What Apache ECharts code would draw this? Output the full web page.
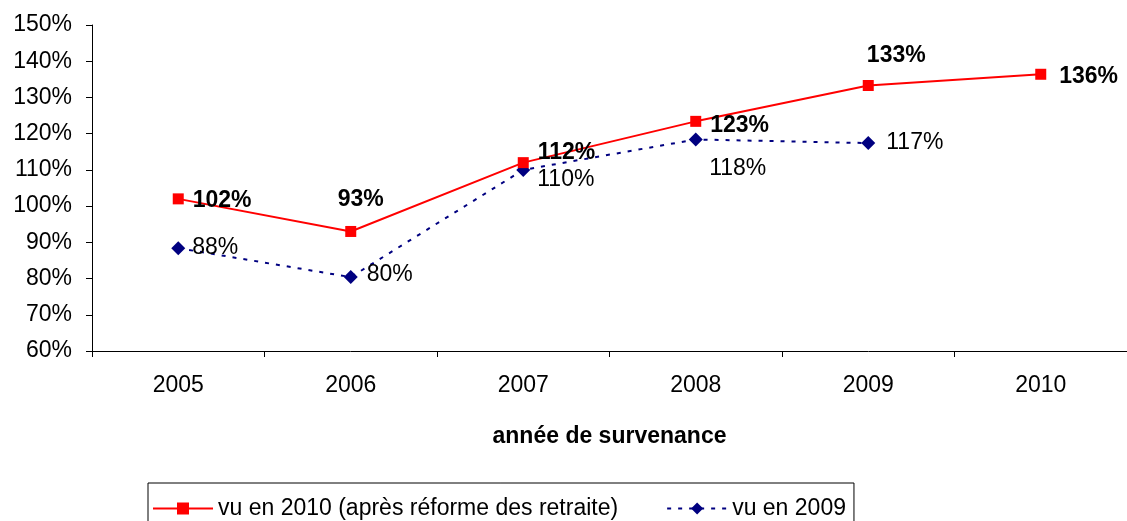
<!DOCTYPE html>
<html>
<head>
<meta charset="utf-8">
<script src="https://cdn.jsdelivr.net/npm/echarts@6/dist/echarts.min.js"></script>
<style>
  html, body { margin: 0; padding: 0; background: #fff; }
  #main { width: 1127px; height: 521px; }
</style>
</head>
<body>
<div id="main"></div>
<script>
// années (axe x)
var years = ["2005", "2006", "2007", "2008", "2009", "2010"];
// vu en 2010 (après réforme des retraite)
var vu2010 = [1.02, 0.93, 1.12, 1.234, 1.333, 1.364];
// vu en 2009
var vu2009 = [0.884, 0.804, 1.10, 1.184, 1.174, null];
// graduations axe y
var yMin = 0.6, yMax = 1.5, yStep = 0.1;

// placement des étiquettes (style, par point)
var pos2010 = [
  { position: "right", offset: [4, 2] },
  { position: "top", offset: [10, -10] },
  { position: "right", offset: [4, -10] },
  { position: "right", offset: [4, 4] },
  { position: "top", offset: [28, -8] },
  { position: "right", offset: [8, 2] }
];
var pos2009 = [
  { position: "right", offset: [2, 0] },
  { position: "right", offset: [4, -2] },
  { position: "right", offset: [2, 10] },
  { position: "bottom", offset: [42, 6] },
  { position: "right", offset: [6, 0] },
  { position: "right", offset: [0, 0] }
];

function pct(v) { return Math.round(v * 100) + "%"; }

var myChart = echarts.init(document.getElementById("main"));
myChart.setOption({
  animation: false,
  textStyle: { fontFamily: "Liberation Sans, Arial, sans-serif" },
  grid: { left: 92, right: 0, top: 25, bottom: 170, containLabel: false },
  legend: {
    left: 148,
    top: 483,
    padding: [14, 8, 14, 4],
    borderColor: "#000",
    borderWidth: 1,
    itemGap: 48,
    itemWidth: 60,
    itemHeight: 15,
    textStyle: { fontSize: 23, color: "#000" },
    data: ["vu en 2010 (après réforme des retraite)", "vu en 2009"]
  },
  xAxis: {
    type: "category",
    data: years,
    boundaryGap: true,
    name: "année de survenance",
    nameLocation: "middle",
    nameGap: 74,
    nameTextStyle: { fontSize: 23, fontWeight: "bold", color: "#000" },
    axisLine: { lineStyle: { color: "#000", width: 1 } },
    axisTick: { show: true, alignWithLabel: false, length: 6, lineStyle: { color: "#000" } },
    axisLabel: { fontSize: 23, color: "#000", margin: 23 },
    splitLine: { show: false }
  },
  yAxis: {
    type: "value",
    min: yMin,
    max: yMax,
    interval: yStep,
    axisLine: { show: true, lineStyle: { color: "#000", width: 1 } },
    axisTick: { show: true, length: 6, lineStyle: { color: "#000" } },
    axisLabel: { fontSize: 23, color: "#000", margin: 20, formatter: function (v) { return pct(v); } },
    splitLine: { show: false }
  },
  series: [
    {
      name: "vu en 2010 (après réforme des retraite)",
      type: "line",
      data: vu2010.map(function (v, i) {
        return { value: v, label: pos2010[i] };
      }),
      color: "#ff0000",
      symbol: "rect",
      symbolSize: 11,
      lineStyle: { color: "#ff0000", width: 2 },
      itemStyle: { color: "#ff0000" },
      label: {
        show: true,
        fontSize: 23,
        fontWeight: "bold",
        color: "#000",
        formatter: function (p) { return pct(p.value); }
      },
      z: 3
    },
    {
      name: "vu en 2009",
      type: "line",
      data: vu2009.map(function (v, i) {
        return { value: v, label: pos2009[i] };
      }),
      color: "#000080",
      symbol: "diamond",
      symbolSize: 14,
      lineStyle: { color: "#000080", width: 2, type: [4, 7] },
      itemStyle: { color: "#000080" },
      label: {
        show: true,
        fontSize: 23,
        color: "#000",
        formatter: function (p) { return p.value == null ? "" : pct(p.value); }
      },
      z: 2
    }
  ]
});
</script>
</body>
</html>
